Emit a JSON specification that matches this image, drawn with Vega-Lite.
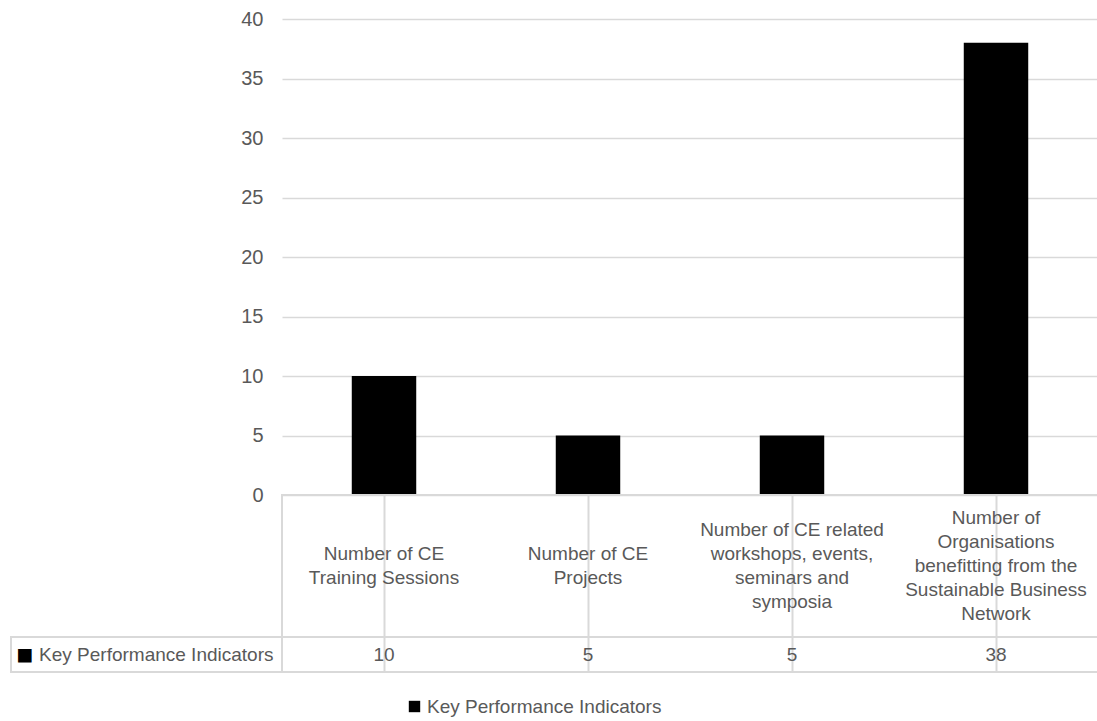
{
  "$schema": "https://vega.github.io/schema/vega-lite/v6.json",
  "padding": {"left": 10, "top": 9, "right": 0, "bottom": 5},
  "background": "white",
  "datasets": {
    "kpi": [
      {"category": "Number of CE\nTraining Sessions", "series": "Key Performance Indicators", "value": 10},
      {"category": "Number of CE\nProjects", "series": "Key Performance Indicators", "value": 5},
      {"category": "Number of CE related\nworkshops, events,\nseminars and\nsymposia", "series": "Key Performance Indicators", "value": 5},
      {"category": "Number of\nOrganisations\nbenefitting from the\nSustainable Business\nNetwork", "series": "Key Performance Indicators", "value": 38}
    ],
    "series": [{"series": "Key Performance Indicators"}]
  },
  "columns": 2,
  "spacing": 0,
  "bounds": "flush",
  "align": "each",
  "resolve": {"scale": {"color": "shared"}, "legend": {"color": "shared"}},
  "concat": [
    {
      "width": 271, "height": 476,
      "view": {"stroke": null},
      "data": {"values": []},
      "mark": "point",
      "encoding": {}
    },
    {
      "width": 816, "height": 476,
      "view": {"stroke": null},
      "data": {"name": "kpi"},
      "mark": {"type": "bar", "color": "#000000"},
      "encoding": {
        "x": {"field": "category", "type": "nominal", "sort": null, "axis": null,
              "scale": {"paddingInner": 0.684, "paddingOuter": 0.342}},
        "y": {"field": "value", "type": "quantitative",
              "scale": {"domain": [0, 40], "nice": false},
              "axis": {"values": [0, 5, 10, 15, 20, 25, 30, 35, 40], "title": null,
                       "grid": true, "gridColor": "#d9d9d9", "gridWidth": 1.5,
                       "domain": false, "ticks": false, "tickSize": 0, "labelPadding": 19,
                       "labelFontSize": 20, "labelColor": "#595959"}},
        "color": {"field": "series", "type": "nominal",
                  "scale": {"range": ["#000000"]},
                  "legend": {"orient": "none", "legendX": 394, "legendY": 678, "padding": 0,
                             "title": null, "symbolType": "square", "labelLimit": 500,
                             "symbolSize": 130, "symbolStrokeWidth": 0, "symbolFillColor": "#000000",
                             "labelFontSize": 19, "labelColor": "#595959", "labelOffset": 3}}
      }
    },
    {
      "width": 271, "height": 142,
      "view": {"stroke": null},
      "data": {"values": []},
      "mark": "point",
      "encoding": {}
    },
    {
      "width": 816, "height": 142,
      "view": {"stroke": "#d9d9d9", "strokeWidth": 2},
      "data": {"name": "kpi"},
      "mark": {"type": "text", "lineBreak": "\n", "fontSize": 19, "color": "#595959", "lineHeight": 24, "baseline": "middle",
               "dy": {"expr": "-(length(split(datum.category, '\\n')) - 1) * 12"}},
      "encoding": {
        "x": {"field": "category", "type": "nominal", "sort": null,
              "scale": {"paddingInner": 0, "paddingOuter": 0},
              "axis": {"title": null, "labels": false, "ticks": false, "domain": false,
                       "grid": true, "bandPosition": 0, "gridColor": "#d9d9d9", "gridWidth": 2}},
        "text": {"field": "category"}
      }
    },
    {
      "width": 271, "height": 35,
      "view": {"stroke": "#d9d9d9", "strokeWidth": 2},
      "data": {"name": "series"},
      "layer": [
        {"mark": {"type": "text", "text": "■", "fontSize": 28, "color": "#000000", "align": "left", "dx": -130, "dy": 1, "baseline": "middle"},
         "encoding": {}},
        {"mark": {"type": "text", "fontSize": 19, "color": "#595959", "align": "right", "dx": 127, "baseline": "middle"},
         "encoding": {"text": {"field": "series"}}}
      ]
    },
    {
      "width": 816, "height": 35,
      "view": {"stroke": "#d9d9d9", "strokeWidth": 2},
      "data": {"name": "kpi"},
      "mark": {"type": "text", "fontSize": 19, "color": "#595959", "baseline": "middle"},
      "encoding": {
        "x": {"field": "category", "type": "nominal", "sort": null,
              "scale": {"paddingInner": 0, "paddingOuter": 0},
              "axis": {"title": null, "labels": false, "ticks": false, "domain": false,
                       "grid": true, "bandPosition": 0, "gridColor": "#d9d9d9", "gridWidth": 2}},
        "text": {"field": "value"}
      }
    }
  ],
  "config": {
    "font": "Liberation Sans, sans-serif",
    "view": {"stroke": null},
    "axis": {"labelFont": "Liberation Sans, sans-serif"},
    "legend": {"labelFont": "Liberation Sans, sans-serif"},
    "text": {"font": "Liberation Sans, sans-serif"}
  }
}
